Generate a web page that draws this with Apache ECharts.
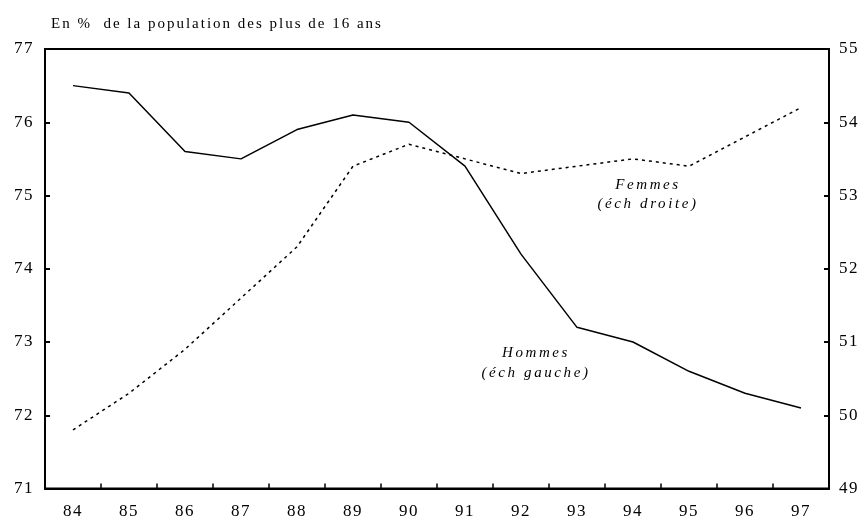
<!DOCTYPE html>
<html>
<head>
<meta charset="utf-8">
<script src="https://cdn.jsdelivr.net/npm/echarts@6/dist/echarts.min.js"></script>
<style>
  html, body { margin: 0; padding: 0; background: #fff; }
  #chart { width: 862px; height: 521px; }
</style>
</head>
<body>
<div id="chart"></div>
<script>
// années (axe x)
var years = ['84', '85', '86', '87', '88', '89', '90', '91', '92', '93', '94', '95', '96', '97']
// taux d'activité hommes, échelle gauche
var hommes = [76.5, 76.4, 75.6, 75.5, 75.9, 76.1, 76.0, 75.4, 74.2, 73.2, 73.0, 72.6, 72.3, 72.1]
// taux d'activité femmes, échelle droite
var femmes = [49.8, 50.3, 50.9, 51.6, 52.3, 53.4, 53.7, 53.5, 53.3, 53.4, 53.5, 53.4, 53.8, 54.2]

var serif = '"Liberation Serif", "DejaVu Serif", serif'

// the original uses widely spaced type: add canvas letter spacing
var spacingFor = function(font) {
  if (font.indexOf('italic') >= 0) return '2.6px'
  if (font.indexOf('17px') >= 0) return '1.5px'
  return '2px'
}
var proto = CanvasRenderingContext2D.prototype
var origFill = proto.fillText
var origMeasure = proto.measureText
proto.fillText = function() {
  this.letterSpacing = spacingFor(this.font)
  return origFill.apply(this, arguments)
}
proto.measureText = function() {
  this.letterSpacing = spacingFor(this.font)
  return origMeasure.apply(this, arguments)
}

var chart = echarts.init(document.getElementById('chart'))

var axisLine = { show: true, lineStyle: { color: '#000', width: 2 } }
var axisTick = { show: true, inside: true, length: 5, lineStyle: { color: '#000', width: 2 } }
var labelFont = { color: '#000', fontFamily: serif, fontSize: 17 }

chart.setOption({
  animation: false,
  backgroundColor: '#fff',
  title: {
    text: 'En %  de la population des plus de 16 ans',
    left: 46,
    top: 11,
    textStyle: { fontFamily: serif, fontSize: 15, fontWeight: 'normal', color: '#000' }
  },
  grid: {
    left: 45,
    right: 33,
    top: 49,
    bottom: 29,
    show: true,
    borderColor: '#000',
    borderWidth: 2
  },
  xAxis: {
    type: 'category',
    data: years,
    boundaryGap: true,
    axisLine: axisLine,
    axisTick: { show: true, inside: true, length: 5, lineStyle: { color: '#000', width: 1.5 } },
    axisLabel: Object.assign({}, labelFont, { margin: 14 })
  },
  yAxis: [
    {
      type: 'value',
      min: 71,
      max: 77,
      interval: 1,
      position: 'left',
      axisLine: axisLine,
      axisTick: axisTick,
      splitLine: { show: false },
      axisLabel: Object.assign({}, labelFont, { margin: 11 })
    },
    {
      type: 'value',
      min: 49,
      max: 55,
      interval: 1,
      position: 'right',
      axisLine: axisLine,
      axisTick: axisTick,
      splitLine: { show: false },
      axisLabel: Object.assign({}, labelFont, { margin: 10 })
    }
  ],
  series: [
    {
      name: 'Hommes',
      type: 'line',
      yAxisIndex: 0,
      data: hommes,
      symbol: 'none',
      lineStyle: { color: '#000', width: 1.5 }
    },
    {
      name: 'Femmes',
      type: 'line',
      yAxisIndex: 1,
      data: femmes,
      symbol: 'none',
      lineStyle: { color: '#000', width: 1.5, type: [3, 4] }
    }
  ],
  graphic: [
    {
      type: 'text',
      x: 648,
      y: 176,
      style: {
        text: 'Femmes\n(éch droite)',
        align: 'center',
        verticalAlign: 'top',
        fill: '#000',
        font: 'italic 15px ' + serif,
        lineHeight: 19
      }
    },
    {
      type: 'text',
      x: 536,
      y: 343,
      style: {
        text: 'Hommes\n(éch gauche)',
        align: 'center',
        verticalAlign: 'top',
        fill: '#000',
        font: 'italic 15px ' + serif,
        lineHeight: 20
      }
    }
  ]
})
</script>
</body>
</html>
